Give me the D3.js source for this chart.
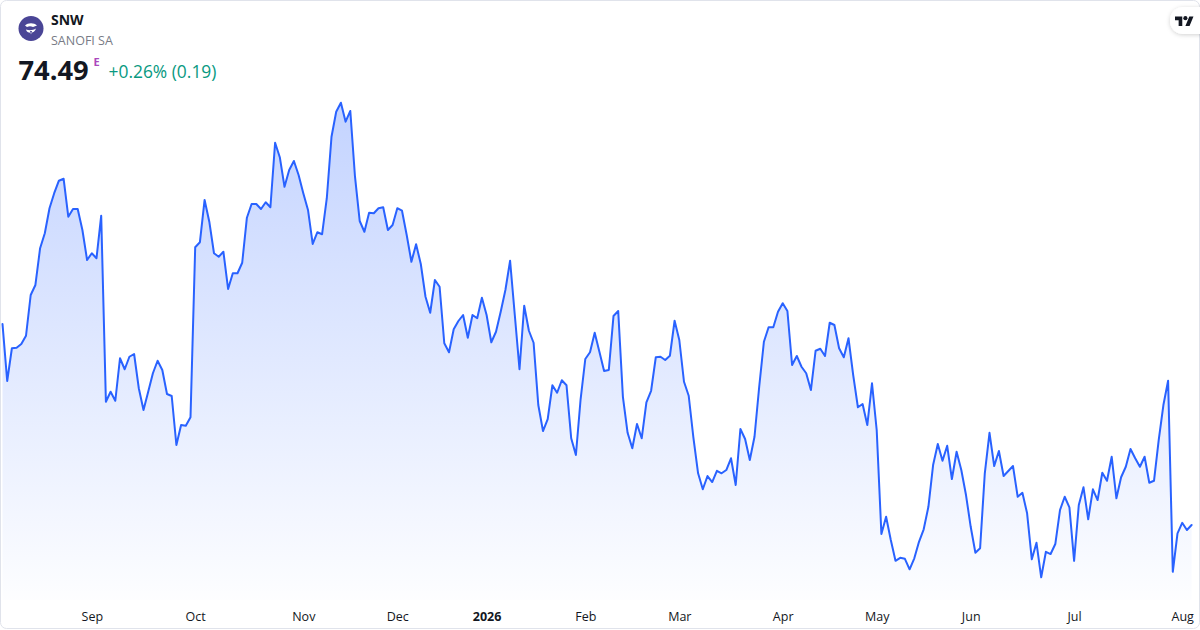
<!DOCTYPE html>
<html>
<head>
<meta charset="utf-8">
<script src="https://cdn.jsdelivr.net/npm/d3@7"></script>
<style>
  html, body { margin: 0; padding: 0; background: #ffffff; }
  svg { display: block; font-family: "Open Sans", "Noto Sans", sans-serif; }
</style>
</head>
<body>
<svg id="chart" width="1200" height="630"></svg>
<script>
// ---- data (daily closes, one per trading day) ----
const symbol = "SNW";
const companyName = "SANOFI SA";
const lastPrice = "74.49";
const changeText = "+0.26% (0.19)";

const prices = [
  82.53, 80.25, 81.56, 81.58, 81.73, 82.06, 83.69, 84.09, 85.56, 86.16,
  87.16, 87.76, 88.26, 88.34, 86.82, 87.13, 87.13, 86.29, 85.09, 85.36,
  85.16, 86.86, 79.42, 79.82, 79.46, 81.16, 80.72, 81.22, 81.33, 79.96,
  79.09, 79.82, 80.56, 81.06, 80.69, 79.73, 79.65, 77.69, 78.49, 78.46,
  78.80, 85.60, 85.80, 87.49, 86.62, 85.36, 85.22, 85.42, 83.93, 84.56,
  84.56, 84.98, 86.78, 87.33, 87.33, 87.13, 87.40, 87.20, 89.78, 89.20,
  88.02, 88.69, 89.05, 88.49, 87.76, 87.09, 85.73, 86.20, 86.12, 87.56,
  90.02, 91.02, 91.38, 90.62, 91.05, 88.42, 86.65, 86.22, 86.98, 86.96,
  87.16, 87.20, 86.29, 86.49, 87.16, 87.06, 86.09, 85.02, 85.72, 84.93,
  83.62, 82.98, 84.29, 84.02, 81.76, 81.40, 82.32, 82.65, 82.89, 81.98,
  82.89, 82.76, 83.58, 82.89, 81.80, 82.22, 83.02, 83.89, 85.06, 82.89,
  80.72, 83.26, 82.26, 81.78, 79.29, 78.25, 78.73, 80.08, 79.78, 80.28,
  80.08, 77.96, 77.29, 79.52, 81.13, 81.40, 82.18, 81.42, 80.65, 80.69,
  82.85, 83.05, 79.62, 78.18, 77.56, 78.53, 77.96, 79.40, 79.86, 81.20,
  81.22, 81.09, 81.26, 82.66, 81.89, 80.22, 79.66, 77.99, 76.56, 75.92,
  76.45, 76.21, 76.66, 76.56, 76.69, 77.16, 76.09, 78.33, 77.93, 77.09,
  78.02, 80.02, 81.82, 82.40, 82.40, 83.02, 83.36, 83.05, 80.89, 81.25,
  80.82, 80.56, 79.89, 81.46, 81.54, 81.25, 82.58, 82.49, 81.56, 81.20,
  81.96, 80.49, 79.20, 79.33, 78.49, 80.16, 78.29, 74.13, 74.82, 73.89,
  73.06, 73.18, 73.14, 72.72, 73.16, 73.82, 74.32, 75.22, 76.89, 77.73,
  77.06, 77.66, 76.33, 77.42, 76.69, 75.69, 74.42, 73.38, 73.56, 76.56,
  78.18, 76.85, 77.45, 76.45, 76.65, 76.85, 75.62, 75.78, 74.96, 73.12,
  73.78, 72.40, 73.42, 73.33, 73.73, 75.09, 75.62, 75.20, 73.06, 75.29,
  76.00, 74.72, 75.92, 75.49, 76.58, 76.26, 77.22, 75.56, 76.40, 76.82,
  77.53, 77.16, 76.82, 77.22, 76.18, 76.26, 77.89, 79.29, 80.26, 72.62,
  74.16, 74.58, 74.29, 74.49
];

// month labels and the trading-day index of each month's first session
const tickLabels = ["Sep", "Oct", "Nov", "Dec", "2026", "Feb", "Mar", "Apr", "May", "Jun", "Jul", "Aug"];
const tickIndex  = [19, 41, 64, 84, 103, 124, 144, 166, 186, 206, 228, 251];
const boldTicks  = ["2026"];

// ---- drawing ----
const W = 1200, H = 630;
const svg = d3.select("#chart");

// card background + border
svg.append("rect")
  .attr("x", 0.5).attr("y", 0.5).attr("width", W - 1).attr("height", H - 2)
  .attr("rx", 6).attr("fill", "#ffffff").attr("stroke", "#e0e3eb");

const x = d3.scaleLinear().domain([0, prices.length - 1]).range([2.5, 1191.6]);
const y = d3.scaleLinear().domain(d3.extent(prices)).range([577.3, 102.7]);
const baseY = 600;

const defs = svg.append("defs");
const grad = defs.append("linearGradient")
  .attr("id", "fillGrad").attr("gradientUnits", "userSpaceOnUse")
  .attr("x1", 0).attr("x2", 0).attr("y1", 100).attr("y2", baseY);
grad.append("stop").attr("offset", "0%").attr("stop-color", "#2962ff").attr("stop-opacity", 0.28);
grad.append("stop").attr("offset", "100%").attr("stop-color", "#2962ff").attr("stop-opacity", 0.01);

const filt = defs.append("filter").attr("id", "shadow").attr("x", "-50%").attr("y", "-50%").attr("width", "200%").attr("height", "200%");
filt.append("feDropShadow").attr("dx", 0).attr("dy", 1).attr("stdDeviation", 2)
  .attr("flood-color", "#000").attr("flood-opacity", 0.18);

const area = d3.area()
  .x((d, i) => x(i))
  .y0(baseY)
  .y1(d => y(d));
const line = d3.line()
  .x((d, i) => x(i))
  .y(d => y(d));

svg.append("path").datum(prices)
  .attr("d", area).attr("fill", "url(#fillGrad)");
svg.append("path").datum(prices)
  .attr("d", line).attr("fill", "none")
  .attr("stroke", "#2962ff").attr("stroke-width", 2)
  .attr("stroke-linejoin", "round").attr("stroke-linecap", "round");

// x axis labels
const xAxis = d3.axisBottom(x)
  .tickValues(tickIndex)
  .tickFormat((d, i) => tickLabels[i])
  .tickSize(0).tickPadding(0);
const gx = svg.append("g").attr("transform", "translate(0,612.5)").call(xAxis);
gx.select(".domain").remove();
gx.selectAll("text")
  .attr("fill", "#131722")
  .style("font-size", "12.5px")
  .style("font-family", "\"Open Sans\", \"Noto Sans\", sans-serif")
  .style("font-weight", (d, i) => boldTicks.includes(tickLabels[i]) ? "700" : "400");

// header: logo
const logo = svg.append("g").attr("transform", "translate(31,28.5)");
logo.append("circle").attr("r", 12.5).attr("fill", "#4a4596");
logo.append("path")
  .attr("d", "M-6,-3 C-3,-6 3,-6 6,-3 L2,-1.5 C0,-2.5 -2,-2.5 -4,-1.5 Z M-5,1 C-2,2 2,2 5,0 C4,5 -4,6 -5,1 Z M-1,2.5 L0,6 L1,2.5 Z")
  .attr("fill", "#ffffff");

svg.append("text").attr("x", 51).attr("y", 25)
  .attr("font-size", 14).attr("font-weight", 700).attr("fill", "#131722").text(symbol);
svg.append("text").attr("x", 51).attr("y", 45)
  .attr("font-size", 12.5).attr("fill", "#787b86").text(companyName);
svg.append("text").attr("x", 18.5).attr("y", 80)
  .attr("font-size", 27.3).attr("font-weight", 700).attr("fill", "#131722").text(lastPrice);
svg.append("text").attr("x", 93.5).attr("y", 65.5)
  .attr("font-size", 11).attr("font-weight", 700).attr("fill", "#ab47bc").text("E");
svg.append("text").attr("x", 108.5).attr("y", 78)
  .attr("font-size", 17.4).attr("fill", "#089981").text(changeText);

// TradingView badge top right
const badge = svg.append("g");
badge.append("rect").attr("x", 1170).attr("y", 7).attr("width", 44).attr("height", 27)
  .attr("rx", 13).attr("fill", "#ffffff").attr("filter", "url(#shadow)");
badge.append("path")
  .attr("transform", "translate(1175,14.5) scale(0.52)")
  .attr("d", "M14 22H7V11H0V4h14v18zM28 22h-8l7.5-18h8L28 22z")
  .attr("fill", "#131722");
badge.append("circle")
  .attr("cx", 1175 + 20 * 0.52).attr("cy", 14.5 + 7 * 0.52).attr("r", 4 * 0.52)
  .attr("fill", "#131722");
</script>
</body>
</html>
